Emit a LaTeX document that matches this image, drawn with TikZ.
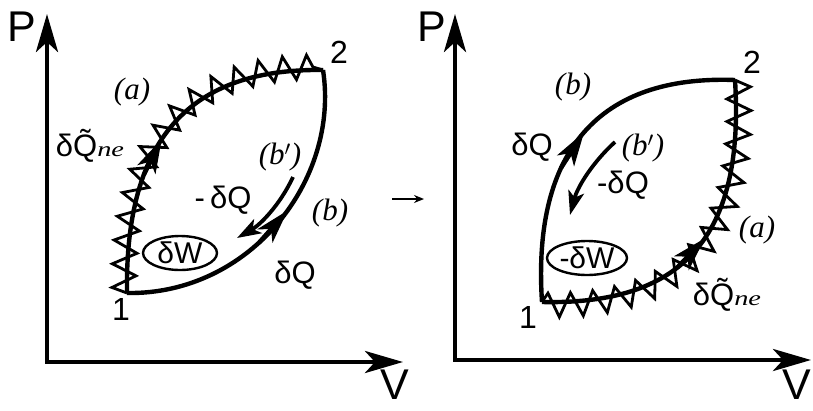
\documentclass[tikz,border=0pt]{standalone}
\usepackage{fontspec}
\setmainfont{Liberation Sans}
\newfontfamily\tms{Liberation Serif}
\usepackage{tikz}
\usetikzlibrary{arrows.meta,positioning,shapes.geometric,decorations.pathmorphing}

\newcommand{\qne}{δ\~{Q}\scalebox{1.35}[1]{\tms\itshape\fontsize{21}{21}\selectfont ne}}
\tikzset{bigtip/.tip={Stealth[length=38pt,width=22pt,inset=10pt]}}

\begin{document}
\begin{tikzpicture}[x=1pt,y=-1pt,>=Stealth,
  axis/.style={line width=4.5pt,bigtip-bigtip},
  curve/.style={line width=4.4pt},
  zig/.style={line width=2.8pt,line join=miter,decorate,decoration={zigzag,amplitude=12pt,segment length=23pt,raise=#1}},
  tipseg/.style={line width=4.4pt,-{Stealth[length=34pt,width=20pt,inset=9pt]}},
  rev/.style={line width=3.8pt,-{Stealth[length=24pt,width=16pt,inset=6pt]}},
  lbl/.style={font=\fontsize{31}{34}\selectfont,inner sep=0pt},
  tag/.style={font=\tms\itshape\fontsize{31}{34}\selectfont,inner sep=0pt},
  num/.style={font=\fontsize{32}{34}\selectfont,inner sep=0pt},
  axl/.style={font=\fontsize{43}{43}\selectfont,inner sep=0pt},
  work/.style={draw,ellipse,line width=2.4pt,inner sep=0pt,font=\fontsize{30}{32}\selectfont}]
\useasboundingbox (0,0) rectangle (813,410);
% left panel
\coordinate (lp) at (47,14);
\coordinate (lv) at (403,362);
\draw[axis] (lp) |- (lv);
\node[axl] (lP) at (22,27) {P};
\node[axl] (lV) at (395,385) {V};
\coordinate (l1) at (127,293);
\coordinate (l2) at (323,70);
\node[num] (l1t) at (121,309) {1};
\node[num] (l2t) at (339,52) {2};
\draw[curve] (l1) .. controls (125,150) and (180,68) .. (l2)
  coordinate[pos=0.32] (la1) coordinate[pos=0.45] (la2);
\draw[zig=3pt] (l1) .. controls (125,150) and (180,68) .. (l2);
\draw[tipseg] (la1) -- (la2);
\draw[curve] (l1) .. controls (250,295) and (340,180) .. (l2)
  coordinate[pos=0.42] (lb1t) coordinate[pos=0.55] (lb2t);
\draw[tipseg] (lb1t) -- (lb2t);
\coordinate (lb1) at (293,177);
\coordinate (lb2) at (237,238);
\draw[rev] (lb1) .. controls (280,205) and (260,225) .. (lb2);
\node[tag] (la) at (132,92) {(a)};
\node[lbl] (lq) at (90,146) {\qne};
\node[tag] (lbp) at (280,157) {(b$'$)};
\node[lbl] (lmq) at (223,200) {-\,δQ};
\node[tag] (lb) at (330,213) {(b)};
\node[lbl] (lpq) at (295,275) {δQ};
\node[work,minimum width=74pt,minimum height=34pt] (lw) at (180,253) {δW};
% middle arrow
\coordinate (ma) at (392,199);
\coordinate (mb) at (424,199);
\draw[line width=1.6pt,-{Stealth[length=10pt,width=8pt]}] (ma) -- (mb);
% right panel
\coordinate (rp) at (455,14);
\coordinate (rv) at (811,360);
\draw[axis] (rp) |- (rv);
\node[axl] (rP) at (432,27) {P};
\node[axl] (rV) at (797,385) {V};
\coordinate (r1) at (542,302);
\coordinate (r2) at (735,80);
\node[num] (r1t) at (528,317) {1};
\node[num] (r2t) at (752,62) {2};
\draw[curve] (r1) .. controls (532,150) and (600,75) .. (r2)
  coordinate[pos=0.36] (rb1t) coordinate[pos=0.5] (rb2t);
\draw[tipseg] (rb1t) -- (rb2t);
\draw[curve] (r1) .. controls (680,305) and (745,240) .. (r2)
  coordinate[pos=0.42] (ra1) coordinate[pos=0.56] (ra2);
\draw[zig=-3pt] (r1) .. controls (680,305) and (745,240) .. (r2);
\draw[tipseg] (ra1) -- (ra2);
\coordinate (rb1) at (615,142);
\coordinate (rb2) at (570,215);
\draw[rev] (rb1) .. controls (595,160) and (578,185) .. (rb2);
\node[tag] (rb) at (573,87) {(b)};
\node[lbl] (rpq) at (532,147) {δQ};
\node[tag] (rbp) at (643,148) {(b$'$)};
\node[lbl] (rmq) at (623,185) {-δQ};
\node[tag] (ra) at (757,230) {(a)};
\node[lbl] (rq) at (727,295) {\qne};
\node[work,minimum width=80pt,minimum height=34pt] (rw) at (587,258) {-δW};
\end{tikzpicture}
\end{document}
